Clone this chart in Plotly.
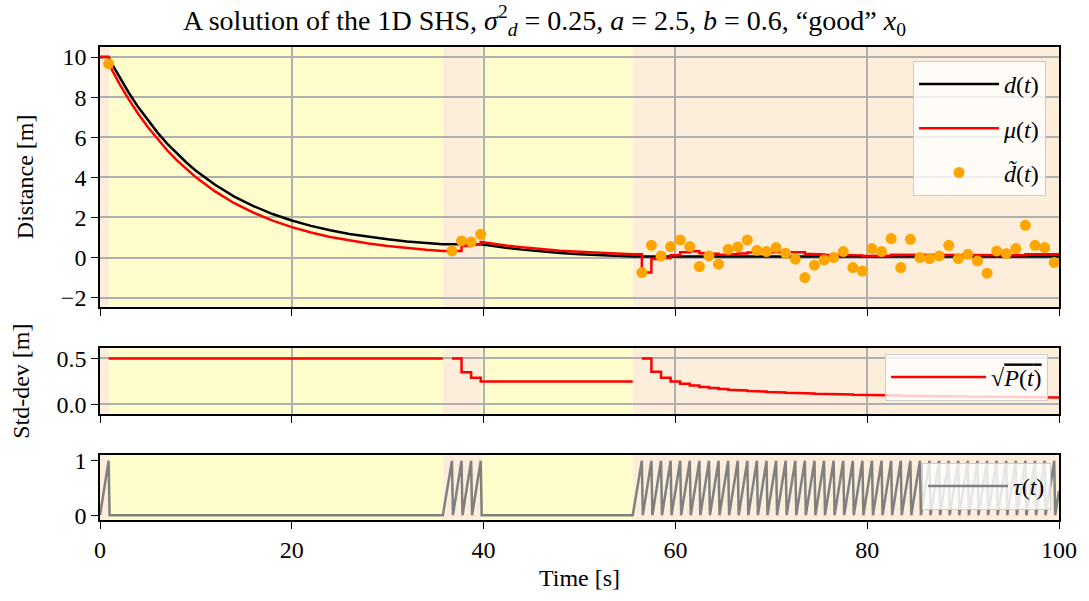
import plotly.graph_objects as go
from plotly.subplots import make_subplots

# ---------------- data ----------------
# flow phase 1 (yellow): time, estimate mu(t), true distance d(t)
t_flow1 = [0.9, 1.5, 2, 3, 4, 5, 6, 7, 8, 9, 10, 12, 14, 16, 18, 20, 22, 24, 26, 28, 30, 32, 34, 35.75]
mu_flow1 = [9.67, 9.12, 8.69, 7.89, 7.16, 6.50, 5.90, 5.35, 4.86, 4.41, 4.00, 3.30, 2.71, 2.24,
            1.84, 1.52, 1.25, 1.03, 0.85, 0.70, 0.58, 0.47, 0.39, 0.33]
d_flow1 = [10.0, 9.45, 9.02, 8.22, 7.49, 6.83, 6.23, 5.68, 5.19, 4.74, 4.33, 3.63, 3.04, 2.57,
           2.17, 1.85, 1.58, 1.36, 1.18, 1.03, 0.91, 0.80, 0.72, 0.66]

# flow phase 2 (yellow)
t_flow2 = [39.7, 41, 42.5, 44, 46, 48, 50, 52, 54, 55.55]
mu_flow2 = [0.775, 0.683, 0.591, 0.511, 0.421, 0.346, 0.285, 0.235, 0.194, 0.167]
d_flow2 = [0.660, 0.568, 0.476, 0.396, 0.306, 0.231, 0.170, 0.120, 0.079, 0.052]

d_start = 10.0
mu_prior = 10.0

# sampling phases (orange) and flow phases (yellow)
orange_start = [0.0, 35.75, 55.55]
orange_end = [0.95, 39.8, 100.0]
yellow_start = [0.95, 39.8]
yellow_end = [35.75, 55.55]

# jump (measurement) times per sampling phase
jump_t1 = [0.9]
jump_t2 = [36.7, 37.7, 38.7, 39.7]
jump_t3 = [56.5, 57.5, 58.5, 59.5, 60.5, 61.5, 62.5, 63.5, 64.5, 65.5, 66.5, 67.5, 68.5, 69.5,
           70.5, 71.5, 72.5, 73.5, 74.5, 75.5, 76.5, 77.5, 78.5, 79.5, 80.5, 81.5, 82.5, 83.5,
           84.5, 85.5, 86.5, 87.5, 88.5, 89.5, 90.5, 91.5, 92.5, 93.5, 94.5, 95.5, 96.5, 97.5,
           98.5, 99.5]

# noisy measurements d~(t)
meas1 = [9.67]
meas2 = [0.33, 0.83, 0.78, 1.16]
meas3 = [-0.75, 0.61, 0.08, 0.55, 0.88, 0.55, -0.45, 0.08, -0.33, 0.41, 0.53, 0.88, 0.36, 0.30,
         0.50, 0.21, -0.08, -1.00, -0.38, -0.12, 0.00, 0.30, -0.50, -0.67, 0.45, 0.30, 0.95, -0.50,
         0.91, 0.00, -0.05, 0.08, 0.61, -0.05, 0.16, -0.17, -0.78, 0.33, 0.20, 0.45, 1.61, 0.61,
         0.50, -0.25]

# estimate mu after each jump
mu_post1 = [9.67]
mu_post2 = [0.33, 0.58, 0.65, 0.775]
mu_post3 = [-0.75, -0.07, -0.02, 0.12, 0.27, 0.32, 0.21, 0.19, 0.14, 0.16, 0.20, 0.25, 0.26, 0.26,
            0.28, 0.28, 0.26, 0.19, 0.16, 0.14, 0.135, 0.14, 0.11, 0.08, 0.10, 0.10, 0.14, 0.11,
            0.14, 0.135, 0.13, 0.13, 0.14, 0.14, 0.14, 0.13, 0.105, 0.11, 0.11, 0.12, 0.16, 0.17,
            0.175, 0.165]

# std-dev sqrt(P) after each jump
std_post1 = [0.5]
std_post2 = [0.50, 0.35, 0.29, 0.25]
std_post3 = [0.50, 0.354, 0.289, 0.25, 0.224, 0.204, 0.189, 0.177, 0.167, 0.158, 0.151, 0.144,
             0.139, 0.134, 0.129, 0.125, 0.121, 0.118, 0.115, 0.112, 0.109, 0.107, 0.104, 0.102,
             0.10, 0.098, 0.096, 0.094, 0.093, 0.091, 0.090, 0.088, 0.087, 0.086, 0.085, 0.083,
             0.082, 0.081, 0.080, 0.079, 0.078, 0.077, 0.076, 0.075]

tau_drop = 0.1  # duration of the drawn reset of the timer

# ---------------- build traces ----------------
jumps = [jump_t1, jump_t2, jump_t3]
meass = [meas1, meas2, meas3]
mu_posts = [mu_post1, mu_post2, mu_post3]
std_posts = [std_post1, std_post2, std_post3]
flows_mu = [(t_flow1, mu_flow1), (t_flow2, mu_flow2)]

d_x = [0.0] + t_flow1 + t_flow2 + [100.0]
d_y = [d_start] + d_flow1 + d_flow2 + [d_flow2[-1]]

mu_x, mu_y = [0.0], [mu_prior]
cur = mu_prior
for b in range(3):
    for tj, m in zip(jumps[b], mu_posts[b]):
        mu_x += [tj, tj]
        mu_y += [cur, m]
        cur = m
    if b < 2:
        tf, mf = flows_mu[b]
        mu_x += tf
        mu_y += mf
        cur = mf[-1]
    else:
        mu_x.append(100.0)
        mu_y.append(cur)

m_x = jump_t1 + jump_t2 + jump_t3
m_y = meas1 + meas2 + meas3

hold_end = [yellow_end[0], yellow_end[1], 100.0]
s_x, s_y = [], []
for b in range(3):
    cur = None
    for tj, s in zip(jumps[b], std_posts[b]):
        if cur is not None:
            s_x.append(tj)
            s_y.append(cur)
        s_x.append(tj)
        s_y.append(s)
        cur = s
    s_x += [hold_end[b], None]
    s_y += [cur, None]

tau_x, tau_y = [], []
for b in range(3):
    tau_x.append(orange_start[b])
    tau_y.append(0.0)
    for tj in jumps[b]:
        tau_x += [tj, tj + tau_drop]
        tau_y += [1.0, 0.0]
last_reset = jump_t3[-1] + tau_drop
period = jump_t3[-1] - jump_t3[-2] - tau_drop
tau_x.append(100.0)
tau_y.append((100.0 - last_reset) / period)

# ---------------- figure ----------------
FONT = "Liberation Serif"
FS = 24
fig = make_subplots(rows=3, cols=1, shared_xaxes=False, vertical_spacing=0.05)

fig.add_trace(go.Scatter(x=d_x, y=d_y, mode="lines", line=dict(color="black", width=2.5),
                         name="<i>d</i>(<i>t</i>)", legend="legend", legendgroup="a"), row=1, col=1)
fig.add_trace(go.Scatter(x=mu_x, y=mu_y, mode="lines", line=dict(color="red", width=2.5),
                         name="<i>μ</i>(<i>t</i>)", legend="legend", legendgroup="b"), row=1, col=1)
fig.add_trace(go.Scatter(x=m_x, y=m_y, mode="markers", marker=dict(color="orange", size=11),
                         name="<i>d̃</i>(<i>t</i>)", legend="legend", legendgroup="c"), row=1, col=1)
fig.add_trace(go.Scatter(x=s_x, y=s_y, mode="lines", line=dict(color="red", width=2.5),
                         name="√<span style=\"text-decoration:overline\"><i>P</i>(<i>t</i>)</span>",
                         legend="legend2"), row=2, col=1)
fig.add_trace(go.Scatter(x=tau_x, y=tau_y, mode="lines", line=dict(color="gray", width=2.5),
                         name="<i>τ</i>(<i>t</i>)", legend="legend3"), row=3, col=1)

YELLOW = "#FFFDCC"
ORANGE = "#FDEEDB"
for r in (1, 2, 3):
    for a, b in zip(orange_start, orange_end):
        fig.add_vrect(x0=a, x1=b, fillcolor=ORANGE, line_width=0, layer="below", row=r, col=1)
    for a, b in zip(yellow_start, yellow_end):
        fig.add_vrect(x0=a, x1=b, fillcolor=YELLOW, line_width=0, layer="below", row=r, col=1)

axis_common = dict(showline=True, mirror=True, linecolor="black", linewidth=1.6,
                   ticks="outside", ticklen=7, tickwidth=1.3, tickcolor="black",
                   zeroline=False, gridcolor="#b0b0b0", gridwidth=1.5,
                   tickfont=dict(family=FONT, size=FS, color="black"))

fig.update_xaxes(range=[0, 100], tickvals=[0, 20, 40, 60, 80, 100], **axis_common)
fig.update_xaxes(showticklabels=False, row=1, col=1)
fig.update_xaxes(showticklabels=False, row=2, col=1)
fig.update_xaxes(showgrid=False, row=3, col=1,
                 title=dict(text="Time [s]", font=dict(family=FONT, size=FS, color="black"), standoff=8))

fig.update_yaxes(**axis_common)
fig.update_yaxes(range=[-2.45, 10.5], tickvals=[-2, 0, 2, 4, 6, 8, 10], row=1, col=1,
                 title=dict(text="Distance [m]", font=dict(family=FONT, size=FS, color="black"), standoff=20))
fig.update_yaxes(range=[-0.105, 0.61], tickvals=[0, 0.5], ticktext=["0.0", "0.5"], row=2, col=1,
                 title=dict(text="Std-dev [m]", font=dict(family=FONT, size=FS, color="black"), standoff=20))
fig.update_yaxes(range=[-0.086, 1.104], tickvals=[0, 1], showgrid=False, row=3, col=1)

H0, H1 = 47, 520
def dom(top, bot):
    return [1 - (bot - H0) / (H1 - H0), 1 - (top - H0) / (H1 - H0)]

legend_common = dict(bgcolor="rgba(255,255,255,0.8)", bordercolor="#cccccc", borderwidth=1,
                     font=dict(family=FONT, size=FS, color="black"), xanchor="right",
                     yanchor="top")

fig.update_layout(
    width=1089, height=601,
    margin=dict(l=100, r=24, t=H0, b=601 - H1),
    plot_bgcolor="white", paper_bgcolor="white",
    yaxis=dict(domain=dom(47, 306.7)),
    yaxis2=dict(domain=dom(348.3, 414)),
    yaxis3=dict(domain=dom(455, 520)),
    title=dict(text="A solution of the 1D SHS, <i>σ</i><sup>2</sup><sub><i>d</i></sub> = 0.25, "
                    "<i>a</i> = 2.5, <i>b</i> = 0.6, “good” <i>x</i><sub>0</sub>",
               x=0.5, xanchor="center", y=1 - 20 / 601, yanchor="middle",
               font=dict(family=FONT, size=28, color="black")),
    legend=dict(x=0.9865, y=1 - (61 - H0) / (H1 - H0), tracegroupgap=10, itemwidth=80,
                traceorder="grouped", **legend_common),
    legend2=dict(x=0.9886, y=1 - (354 - H0) / (H1 - H0), itemwidth=95, **legend_common),
    legend3=dict(x=0.9917, y=1 - (463 - H0) / (H1 - H0), itemwidth=80, **legend_common),
    showlegend=True,
)

fig.write_html("out.html")
